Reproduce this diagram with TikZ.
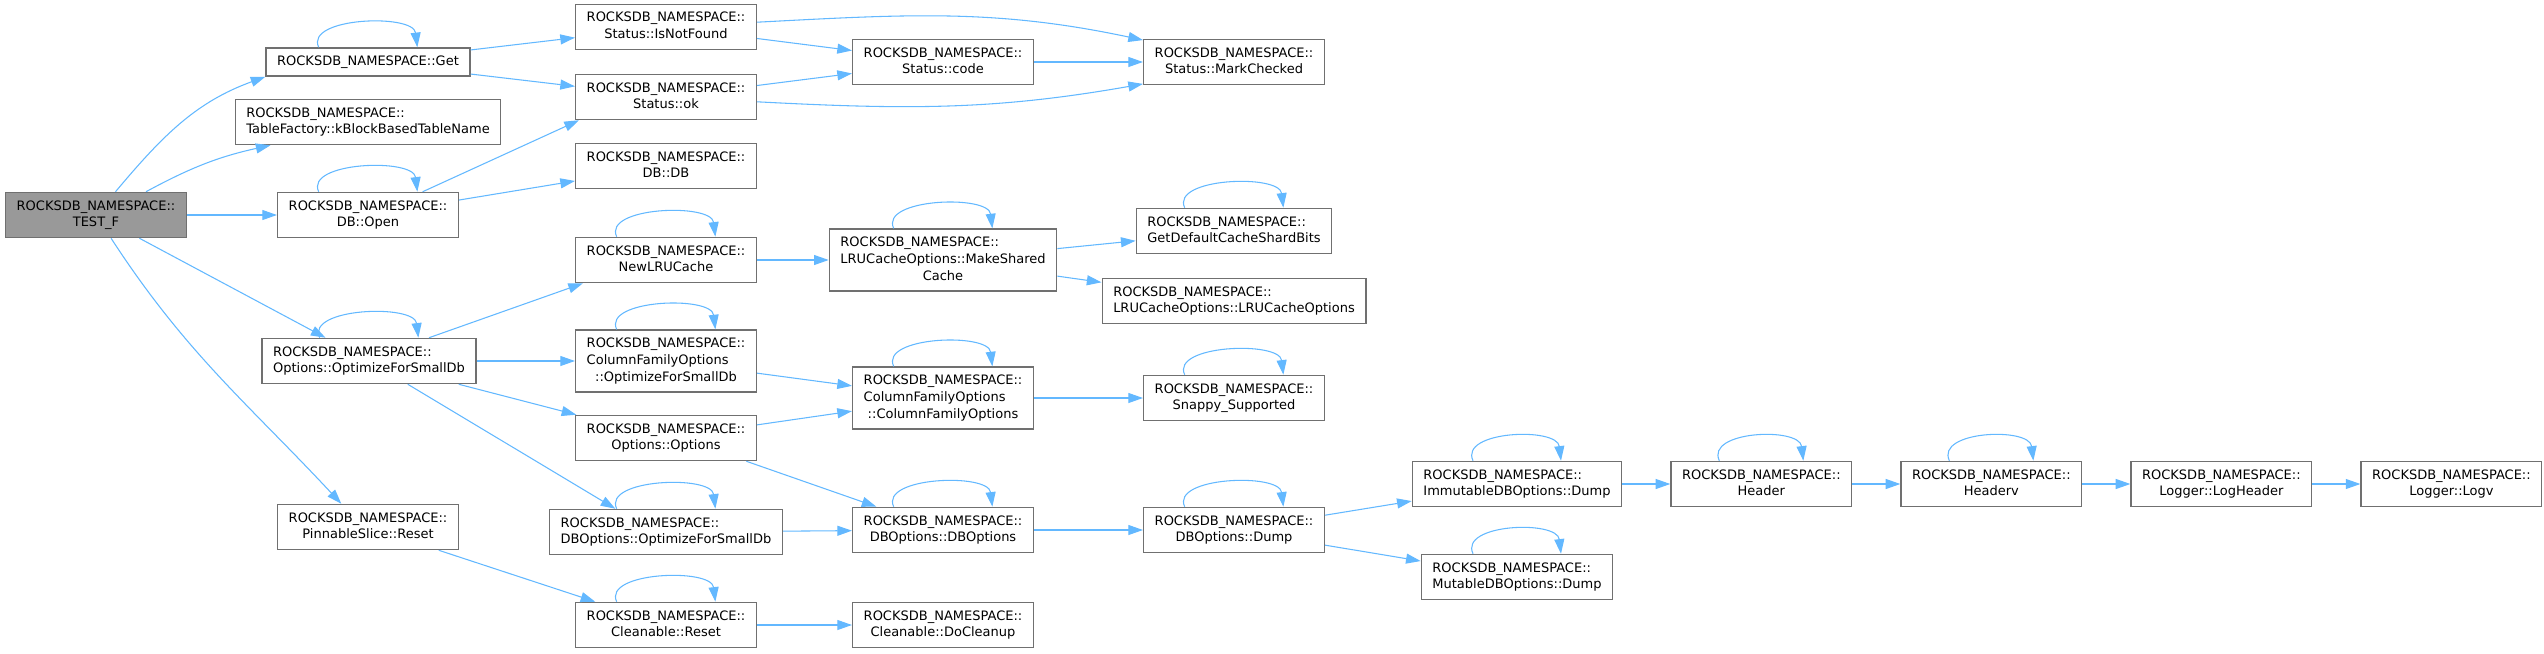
\documentclass[tikz,border=0pt]{standalone}
\usepackage{fontspec}
\setmainfont{DejaVu Sans}
\usetikzlibrary{positioning,arrows.meta}

\definecolor{callblue}{HTML}{63B8FF}
\definecolor{boxgray}{HTML}{999999}
\definecolor{boxline}{HTML}{707070}

% label: every line but the last flush left, the last one centred
\newcommand{\fnl}[2]{\begin{tabular}{@{}l@{}}#1\\\multicolumn{1}{@{}c@{}}{#2}\end{tabular}}

\begin{document}
\begin{tikzpicture}[
  x=0.75pt,y=-0.75pt,
  font=\fontsize{9.75}{12.5}\selectfont,
  >={Triangle[length=11pt,width=7.5pt]},
  fn/.style={draw=boxline,line width=1.1pt,fill=white,inner xsep=8.25pt,inner ysep=4.4pt,minimum height=21pt},
  root/.style={fn,fill=boxgray},
  call/.style={->,line width=0.8pt,callblue},
  selfloop/.style={to path={([xshift=-#1]\tikztostart.north) .. controls +(-14,-30) and +(-4,-34) .. ([xshift=#1]\tikztotarget.north)}},
  selfloop/.default=37pt,
]
\useasboundingbox (0,0) rectangle (2544,653);

\node[root] (testf) at (96,215) {\fnl{ROCKSDB\_NAMESPACE::}{TEST\_F}};

\node[fn] (get)      at (368,62)  {ROCKSDB\_NAMESPACE::Get};
\node[fn] (tblname)  at (368,122) {\fnl{ROCKSDB\_NAMESPACE::}{TableFactory::kBlockBasedTableName}};
\node[fn] (open)     at (368,215) {\fnl{ROCKSDB\_NAMESPACE::}{DB::Open}};
\node[fn] (optsmall) at (369,361) {\fnl{ROCKSDB\_NAMESPACE::}{Options::OptimizeForSmallDb}};
\node[fn] (pinreset) at (368,527) {\fnl{ROCKSDB\_NAMESPACE::}{PinnableSlice::Reset}};

\node[fn] (notfound) at (666,27)  {\fnl{ROCKSDB\_NAMESPACE::}{Status::IsNotFound}};
\node[fn] (ok)       at (666,97)  {\fnl{ROCKSDB\_NAMESPACE::}{Status::ok}};
\node[fn] (dbdb)     at (666,166) {\fnl{ROCKSDB\_NAMESPACE::}{DB::DB}};
\node[fn] (newlru)   at (666,260) {\fnl{ROCKSDB\_NAMESPACE::}{NewLRUCache}};
\node[fn] (cfosmall) at (666,361) {\fnl{ROCKSDB\_NAMESPACE::\\ColumnFamilyOptions}{::OptimizeForSmallDb}};
\node[fn] (options)  at (666,438) {\fnl{ROCKSDB\_NAMESPACE::}{Options::Options}};
\node[fn] (dbosmall) at (666,532) {\fnl{ROCKSDB\_NAMESPACE::}{DBOptions::OptimizeForSmallDb}};
\node[fn] (clreset)  at (666,625) {\fnl{ROCKSDB\_NAMESPACE::}{Cleanable::Reset}};

\node[fn] (code)      at (943,62)  {\fnl{ROCKSDB\_NAMESPACE::}{Status::code}};
\node[fn] (mkshared)  at (943,260) {\fnl{ROCKSDB\_NAMESPACE::\\LRUCacheOptions::MakeShared}{Cache}};
\node[fn] (cfo)       at (943,398) {\fnl{ROCKSDB\_NAMESPACE::\\ColumnFamilyOptions}{::ColumnFamilyOptions}};
\node[fn] (dbopts)    at (943,530) {\fnl{ROCKSDB\_NAMESPACE::}{DBOptions::DBOptions}};
\node[fn] (docleanup) at (943,625) {\fnl{ROCKSDB\_NAMESPACE::}{Cleanable::DoCleanup}};

\node[fn] (marked)    at (1234,62)  {\fnl{ROCKSDB\_NAMESPACE::}{Status::MarkChecked}};
\node[fn] (shardbits) at (1234,231) {\fnl{ROCKSDB\_NAMESPACE::}{GetDefaultCacheShardBits}};
\node[fn] (lruopts)   at (1234,301) {\fnl{ROCKSDB\_NAMESPACE::}{LRUCacheOptions::LRUCacheOptions}};
\node[fn] (snappy)    at (1234,398) {\fnl{ROCKSDB\_NAMESPACE::}{Snappy\_Supported}};
\node[fn] (dump)      at (1234,530) {\fnl{ROCKSDB\_NAMESPACE::}{DBOptions::Dump}};

\node[fn] (imdump) at (1517,484) {\fnl{ROCKSDB\_NAMESPACE::}{ImmutableDBOptions::Dump}};
\node[fn] (mudump) at (1517,577) {\fnl{ROCKSDB\_NAMESPACE::}{MutableDBOptions::Dump}};
\node[fn,right=36pt of imdump]   (header)    {\fnl{ROCKSDB\_NAMESPACE::}{Header}};
\node[fn,right=36pt of header]   (headerv)   {\fnl{ROCKSDB\_NAMESPACE::}{Headerv}};
\node[fn,right=36pt of headerv]  (logheader) {\fnl{ROCKSDB\_NAMESPACE::}{Logger::LogHeader}};
\node[fn,right=36pt of logheader] (logv)     {\fnl{ROCKSDB\_NAMESPACE::}{Logger::Logv}};

% calls out of TEST_F
\draw[call] (testf) to[out=50,in=200] (get.south west);
\draw[call] ([xshift=37.5pt]testf.north) to[bend left=8] ([xshift=27pt]tblname.south west);
\draw[call] (testf) -- (open);
\draw[call] (testf) -- (optsmall);
\draw[call] (testf) to[out=-57,in=133] ([xshift=-20pt]pinreset.north);

\draw[call] (get) -- (notfound);
\draw[call] (get) -- (ok);
\draw[call] ([xshift=41pt]open.north) -- ([xshift=3pt]ok.south west);
\draw[call] (open) -- (dbdb);
\draw[call] ([xshift=45pt]optsmall.north) -- ([xshift=6pt]newlru.south west);
\draw[call] (optsmall) -- (cfosmall);
\draw[call] (optsmall) -- (options);
\draw[call] (optsmall) -- ([xshift=-38pt]dbosmall.north);
\draw[call] (pinreset) -- (clreset);

\draw[call] (notfound) -- (code);
\draw[call] ([yshift=3.6pt]notfound.east) to[out=3,in=168] ([yshift=-1pt]marked.north west);
\draw[call] (ok) -- (code);
\draw[call] ([yshift=-3.6pt]ok.east) to[out=-3,in=190] ([yshift=1pt]marked.south west);
\draw[call] (code) -- (marked);
\draw[call] (newlru) -- (mkshared);
\draw[call] (mkshared) -- (shardbits);
\draw[call] (mkshared) -- (lruopts);
\draw[call] (cfosmall) -- (cfo);
\draw[call] (options) -- (cfo);
\draw[call] ([xshift=-8pt]options.south east) -- (dbopts);
\draw[call] (dbosmall) -- (dbopts);
\draw[call] (clreset) -- (docleanup);

\draw[call] (cfo) -- (snappy);
\draw[call] (dbopts) -- (dump);
\draw[call] (dump) -- (imdump);
\draw[call] (dump) -- (mudump);
\draw[call] (imdump) -- (header);
\draw[call] (header) -- (headerv);
\draw[call] (headerv) -- (logheader);
\draw[call] (logheader) -- (logv);

% recursive calls
\draw[call] (get) to[selfloop] (get);
\draw[call] (open) to[selfloop] (open);
\draw[call] (optsmall) to[selfloop] (optsmall);
\draw[call] (newlru) to[selfloop] (newlru);
\draw[call] (cfosmall) to[selfloop] (cfosmall);
\draw[call] (dbosmall) to[selfloop] (dbosmall);
\draw[call] (clreset) to[selfloop] (clreset);
\draw[call] (mkshared) to[selfloop] (mkshared);
\draw[call] (cfo) to[selfloop] (cfo);
\draw[call] (dbopts) to[selfloop] (dbopts);
\draw[call] (shardbits) to[selfloop] (shardbits);
\draw[call] (snappy) to[selfloop] (snappy);
\draw[call] (dump) to[selfloop] (dump);
\draw[call] (imdump) to[selfloop=33pt] (imdump);
\draw[call] (mudump) to[selfloop=33pt] (mudump);
\draw[call] (header) to[selfloop=31.5pt] (header);
\draw[call] (headerv) to[selfloop=31.5pt] (headerv);
\end{tikzpicture}
\end{document}
